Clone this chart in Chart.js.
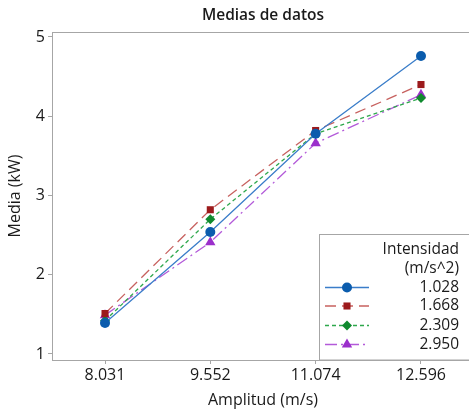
<!DOCTYPE html>
<html>
<head>
<meta charset="utf-8">
<script src="https://cdn.jsdelivr.net/npm/chart.js@4/dist/chart.umd.min.js"></script>
<style>
  html, body { margin: 0; padding: 0; background: #fff; overflow: hidden; }
  #wrap { width: 480px; height: 410px; position: relative; }
</style>
</head>
<body>
<div id="wrap"><canvas id="chart"></canvas></div>
<script>
// Medias de datos: Media (kW) vs Amplitud (m/s), one line per Intensidad

const amplitudes = [8.031, 9.552, 11.074, 12.596];
const yTicks = [1, 2, 3, 4, 5];
const intensityLabels = ['1.028', '1.668', '2.309', '2.950'];
const media1028 = [1.39, 2.54, 3.78, 4.76];
const media1668 = [1.51, 2.82, 3.82, 4.40];
const media2309 = [1.42, 2.70, 3.78, 4.23];
const media2950 = [1.49, 2.41, 3.66, 4.27];

const FONT = "'Open Sans', 'Noto Sans', sans-serif";
const AXIS_GREY = '#a6a6a6';
const TEXT = '#1a1a1a';

function toPoints(values) {
    return amplitudes.map((a, i) => ({ x: a, y: values[i] }));
}

const seriesStyles = [
    { line: '#3a7dc9', point: '#0b5cad', dash: [], style: 'circle', radius: 5 },
    { line: '#c7615f', point: '#9c1a1c', dash: [11, 6], style: 'rect', radius: 5 },
    { line: '#2ea84c', point: '#0f8a2e', dash: [4, 3], style: 'rectRot', radius: 5 },
    { line: '#b35ad9', point: '#9b2fcb', dash: [12, 4, 2, 4], style: 'triangle', radius: 6 }
];

const seriesValues = [media1028, media1668, media2309, media2950];

const datasets = seriesValues.map((vals, i) => ({
    label: intensityLabels[i],
    data: toPoints(vals),
    borderColor: seriesStyles[i].line,
    borderWidth: 1.3,
    borderDash: seriesStyles[i].dash,
    pointStyle: seriesStyles[i].style,
    pointRadius: seriesStyles[i].radius,
    pointBackgroundColor: seriesStyles[i].point,
    pointBorderColor: seriesStyles[i].point,
    pointBorderWidth: 0,
    tension: 0,
    fill: false
}));

// title, top frame line and the boxed legend
const framePlugin = {
    id: 'frame',
    afterDraw(chart) {
        const ctx = chart.ctx;
        const area = chart.chartArea;
        ctx.save();

        ctx.strokeStyle = AXIS_GREY;
        ctx.lineWidth = 1;
        ctx.beginPath();
        ctx.moveTo(area.left, area.top + 0.5);
        ctx.lineTo(area.right, area.top + 0.5);
        ctx.stroke();

        ctx.fillStyle = TEXT;
        ctx.font = `600 15.5px ${FONT}`;
        ctx.textAlign = 'center';
        ctx.textBaseline = 'middle';
        ctx.fillText('Medias de datos', (area.left + area.right) / 2, 16);

        // legend box
        const bx = 319.5, by = 234.5;
        ctx.fillStyle = '#fff';
        ctx.fillRect(bx, by, chart.width - bx, area.bottom - by);
        ctx.strokeStyle = AXIS_GREY;
        ctx.strokeRect(bx, by, chart.width - bx, area.bottom - by);

        ctx.fillStyle = TEXT;
        ctx.font = `15.5px ${FONT}`;
        ctx.textAlign = 'right';
        const tx = 459;
        ctx.fillText('Intensidad', tx, 250);
        ctx.fillText('(m/s^2)', tx, 269);

        const rows = [287.5, 306, 325.5, 344.5];
        chart.data.datasets.forEach((ds, i) => {
            const y = rows[i];
            ctx.strokeStyle = ds.borderColor;
            ctx.lineWidth = 1.3;
            ctx.setLineDash(ds.borderDash);
            ctx.beginPath();
            ctx.moveTo(325, y);
            ctx.lineTo(369, y);
            ctx.stroke();
            ctx.setLineDash([]);
            ctx.fillStyle = ds.pointBackgroundColor;
            ctx.strokeStyle = ds.pointBorderColor;
            Chart.helpers.drawPoint(ctx, {
                pointStyle: ds.pointStyle,
                radius: ds.pointRadius,
                rotation: 0,
                borderWidth: 0
            }, 347, y);
            ctx.fillStyle = TEXT;
            ctx.fillText(ds.label, tx, y);
        });
        ctx.restore();
    }
};

new Chart(document.getElementById('chart').getContext('2d'), {
    type: 'line',
    data: { datasets: datasets },
    options: {
        responsive: true,
        maintainAspectRatio: false,
        animation: false,
        layout: { padding: { top: 32, right: 6, left: 0, bottom: 0 } },
        plugins: {
            legend: { display: false },
            title: { display: false },
            tooltip: { enabled: false }
        },
        scales: {
            x: {
                type: 'linear',
                min: 7.265,
                max: 13.362,
                afterBuildTicks: scale => { scale.ticks = amplitudes.map(v => ({ value: v })); },
                afterFit: scale => { scale.height = 50; },
                grid: { drawOnChartArea: false, drawTicks: true, tickLength: 4, color: AXIS_GREY },
                border: { display: true, color: AXIS_GREY },
                ticks: {
                    color: TEXT,
                    padding: 2,
                    maxRotation: 0,
                    font: { family: FONT, size: 16 },
                    callback: v => v.toFixed(3)
                },
                title: {
                    display: true,
                    text: 'Amplitud (m/s)',
                    color: TEXT,
                    font: { family: FONT, size: 16 },
                    padding: { top: 0, bottom: 0 }
                }
            },
            y: {
                min: 0.924,
                max: 5.063,
                afterBuildTicks: scale => { scale.ticks = yTicks.map(v => ({ value: v })); },
                afterFit: scale => { scale.width = 52; },
                grid: { drawOnChartArea: false, drawTicks: true, tickLength: 4, color: AXIS_GREY },
                border: { display: true, color: AXIS_GREY },
                ticks: {
                    color: TEXT,
                    padding: 3,
                    font: { family: FONT, size: 16 }
                },
                title: {
                    display: true,
                    text: 'Media (kW)',
                    color: TEXT,
                    font: { family: FONT, size: 16 },
                    padding: { top: 6, bottom: 4 }
                }
            }
        }
    },
    plugins: [framePlugin]
});
</script>
</body>
</html>
